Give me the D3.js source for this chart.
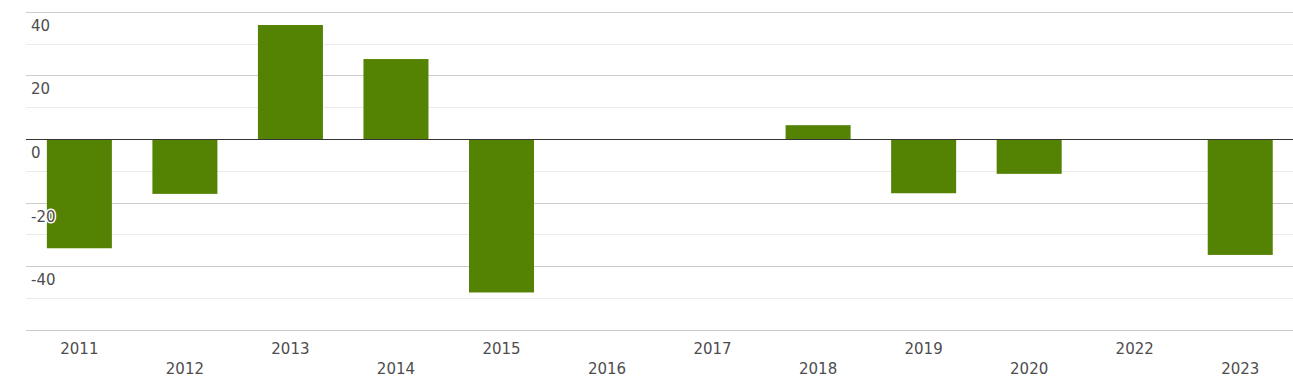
<!DOCTYPE html>
<html>
<head>
<meta charset="utf-8">
<script src="https://cdn.jsdelivr.net/npm/d3@7/dist/d3.min.js"></script>
<style>
  html, body { margin: 0; padding: 0; background: #fff; }
  svg { display: block; }
  text { font-family: "DejaVu Sans", sans-serif; }
</style>
</head>
<body>
<svg id="chart" width="1293" height="384"></svg>
<script>
const categories = ["2011","2012","2013","2014","2015","2016","2017","2018","2019","2020","2022","2023"];
const values = [-34.2, -17.1, 36.0, 25.3, -48.1, 0, 0, 4.5, -16.9, -10.8, 0, -36.3];
const majorTicks = [40, 20, 0, -20, -40, -60];
const minorTicks = [30, 10, -10, -30, -50];
const tickLabels = ["40", "20", "0", "-20", "-40"];

const W = 1293, H = 384;
const plotLeft = 26, plotRight = 1293, plotTop = 12.3, plotBottom = 330.3;
const svg = d3.select("#chart");

const x = d3.scaleBand().domain(categories).range([plotLeft + 0.6, plotRight])
  .paddingInner(0.384).paddingOuter(0.192);
const y = d3.scaleLinear().domain([-60, 40]).range([plotBottom, plotTop]);

const g = svg.append("g");

// minor grid
g.selectAll(".minor").data(minorTicks).enter().append("line")
  .attr("x1", plotLeft).attr("x2", W)
  .attr("y1", d => Math.floor(y(d)) + 0.5).attr("y2", d => Math.floor(y(d)) + 0.5)
  .attr("stroke", "#ebebeb").attr("stroke-width", 1);
// major grid
g.selectAll(".major").data(majorTicks.filter(d => d !== 0)).enter().append("line")
  .attr("x1", plotLeft).attr("x2", W)
  .attr("y1", d => Math.floor(y(d)) + 0.5).attr("y2", d => Math.floor(y(d)) + 0.5)
  .attr("stroke", "#cccccc").attr("stroke-width", 1);

// bars
g.selectAll(".bar").data(categories).enter().append("rect")
  .attr("x", d => x(d))
  .attr("width", x.bandwidth())
  .attr("y", (d, i) => y(Math.max(0, values[i])))
  .attr("height", (d, i) => Math.abs(y(values[i]) - y(0)))
  .attr("fill", "#548203");

// zero line
g.append("line")
  .attr("x1", plotLeft).attr("x2", W)
  .attr("y1", Math.floor(y(0)) + 0.5).attr("y2", Math.floor(y(0)) + 0.5)
  .attr("stroke", "#333").attr("stroke-width", 1);

// y labels
g.selectAll(".ylab").data(tickLabels).enter().append("text")
  .attr("x", 31)
  .attr("y", d => y(+d) + 18.5)
  .attr("font-size", 15)
  .attr("fill", "#4d4d4d")
  .attr("stroke", "#fff").attr("stroke-width", 3)
  .attr("paint-order", "stroke")
  .attr("stroke-linejoin", "round")
  .text(d => d);

// x labels (staggered)
g.selectAll(".xlab").data(categories).enter().append("text")
  .attr("x", d => x(d) + x.bandwidth() / 2)
  .attr("y", (d, i) => i % 2 === 0 ? 353.5 : 373.5)
  .attr("text-anchor", "middle")
  .attr("font-size", 15)
  .attr("fill", "#4d4d4d")
  .text(d => d);
</script>
</body>
</html>
